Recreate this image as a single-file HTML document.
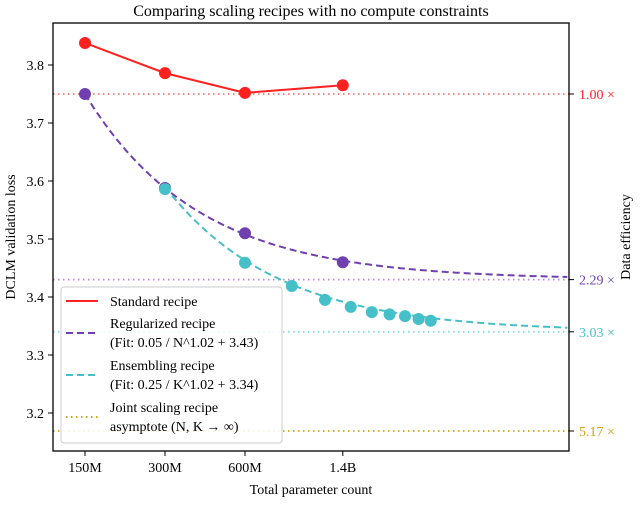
<!DOCTYPE html>
<html><head><meta charset="utf-8"><style>
body{margin:0;background:#fff}
svg text{font-family:"Liberation Serif",serif}
</style></head><body>
<svg id="chart" width="640" height="500" viewBox="0 0 640 500" xmlns="http://www.w3.org/2000/svg">
<rect width="640" height="500" fill="#fff"/>
<g id="plot"></g>
</svg>
<script>
const xTicks=[150,300,600,1400];
const xTickLabels=["150M","300M","600M","1.4B"];
const yTicks=[3.2,3.3,3.4,3.5,3.6,3.7,3.8];
const stdX=[150,300,600,1400];
const stdY=[3.838,3.786,3.752,3.765];
const regX=[150,300,600,1400];
const regY=[3.750,3.588,3.510,3.460];
const ensK=[1,2,3,4,5,6,7,8,9,10];
const ensY=[3.586,3.459,3.419,3.395,3.383,3.374,3.370,3.367,3.362,3.359];
const refLevels=[3.75,3.43,3.34,3.169];
const refLabels=["1.00 ×","2.29 ×","3.03 ×","5.17 ×"];
const regFit=[0.05,1.02,3.43];
const ensFit=[0.25,1.02,3.34];

const L=53,R=569,T=23,B=451;
const X=n=>85+80*Math.log2(n/150);
const Y=v=>65+(3.8-v)*580;
const NS="http://www.w3.org/2000/svg";
const g=document.getElementById('plot');
function mk(tag,attrs,parent){const e=document.createElementNS(NS,tag);for(const k in attrs)e.setAttribute(k,attrs[k]);(parent||g).appendChild(e);return e;}
const RED="#ff2020",PUR="#7040b0",CY="#45c0c8",GOLD="#d4a017";
const refColors=["#ff7070","#b68ae0","#80dde2",GOLD];
const refText=[RED,PUR,CY,GOLD];

// reference dotted lines
refLevels.forEach((v,i)=>{
 const l=mk('line',{x1:L,x2:R,y1:Y(v),y2:Y(v),stroke:refColors[i],'stroke-width':1.8,'stroke-dasharray':'1.5,3.5'});
 
 
 mk('line',{x1:R,x2:R+5,y1:Y(v),y2:Y(v),stroke:'#000'});
 const t=mk('text',{x:R+10,y:Y(v)+5,fill:refText[i],'font-size':14});
 t.textContent=refLabels[i];
 
 
});

// fit curves
function fitPath(f,startN,toN){let d="";for(let n=startN;;n*=1.02){const x=X(n);if(x>R){break;}d+=(d?"L":"M")+x.toFixed(1)+","+Y(toN(n)).toFixed(1);}return d;}
const rp=mk('path',{d:fitPath(regFit,150,n=>regFit[2]+regFit[0]*6.4/Math.pow(n/150,regFit[1])),fill:'none',stroke:PUR,'stroke-width':2,'stroke-dasharray':'7,4'});


const cp=mk('path',{d:fitPath(ensFit,300,n=>ensFit[2]+ensFit[0]/Math.pow(n/300,ensFit[1])),fill:'none',stroke:CY,'stroke-width':2,'stroke-dasharray':'7,4'});



// standard line
const sp=mk('polyline',{points:stdX.map((n,i)=>X(n)+","+Y(stdY[i])).join(" "),fill:'none',stroke:RED,'stroke-width':2});


function dots(xs,ys,col,name){xs.forEach((n,i)=>{const c=mk('circle',{cx:X(n),cy:Y(ys[i]),r:6,fill:col});
 
 });}
dots(stdX,stdY,RED,'standard');
dots(regX,regY,PUR,'regularized');
dots(ensK.map(k=>300*k),ensY,CY,'ensembling');

// frame
const fr=mk('rect',{x:L,y:T,width:R-L,height:B-T,fill:'none',stroke:'#000','stroke-width':1.3});


yTicks.forEach(v=>{mk('line',{x1:L-5,x2:L,y1:Y(v),y2:Y(v),stroke:'#000'});
 const t=mk('text',{x:L-9,y:Y(v)+5,'text-anchor':'end','font-size':14});t.textContent=v.toFixed(1);
 
 });
xTicks.forEach((n,i)=>{mk('line',{x1:X(n),x2:X(n),y1:B,y2:B+5,stroke:'#000'});
 const t=mk('text',{x:X(n),y:B+21,'text-anchor':'middle','font-size':14});t.textContent=xTickLabels[i];
 
 });

function txt(s,a,name){const t=mk('text',a);t.textContent=s;return t;}
txt("Comparing scaling recipes with no compute constraints",{x:311,y:16,'text-anchor':'middle','font-size':16},'chart-title');
txt("Total parameter count",{x:311,y:494,'text-anchor':'middle','font-size':14},'x-axis-title');
txt("DCLM validation loss",{x:0,y:0,'text-anchor':'middle','font-size':14,transform:'translate(15,237) rotate(-90)'},'y-axis-title');
txt("Data efficiency",{x:0,y:0,'text-anchor':'middle','font-size':14,transform:'translate(630,237) rotate(-90)'},'y2-axis-title');

// legend
const lg=mk('g',{});


mk('rect',{x:61,y:287,width:221,height:156,rx:3,fill:'#fff','fill-opacity':0.85,stroke:'#ccc'},lg);
const items=[[RED,'none',["Standard recipe"],301],[PUR,'7,4',["Regularized recipe","(Fit: 0.05 / N^1.02 + 3.43)"],333],[CY,'7,4',["Ensembling recipe","(Fit: 0.25 / K^1.02 + 3.34)"],375],[GOLD,'1.5,3.5',["Joint scaling recipe","asymptote (N, K → ∞)"],417]];
items.forEach(([c,da,lines,y])=>{
 mk('line',{x1:66,x2:98,y1:y,y2:y,stroke:c,'stroke-width':2,'stroke-dasharray':da},lg);
 lines.forEach((s,j)=>{const t=mk('text',{x:110,y:y+5+(lines.length>1?(j?9:-10):0),'font-size':14},lg);t.textContent=s;
  
  });
});
</script>
</body></html>
